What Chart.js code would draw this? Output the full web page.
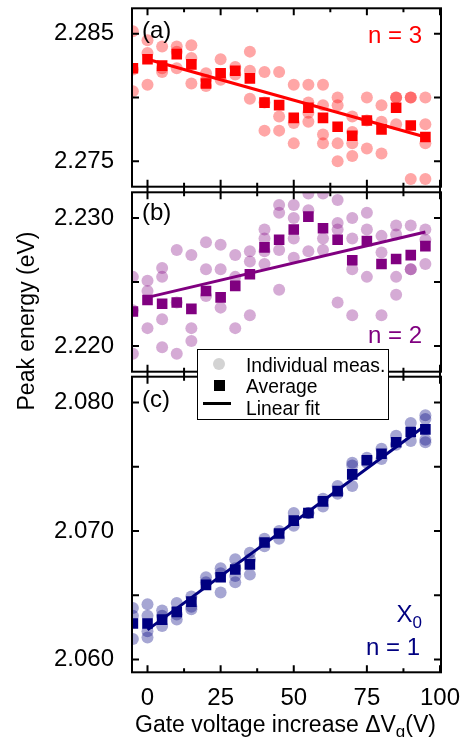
<!DOCTYPE html>
<html>
<head>
<meta charset="utf-8">
<script src="https://cdn.jsdelivr.net/npm/chart.js@4.4.0/dist/chart.umd.min.js"></script>
<style>
  body { margin: 0; background: #fff; }
  #page { position: relative; width: 464px; height: 737px; overflow: hidden; font-family: "Liberation Sans", Arial, sans-serif; }
  canvas { position: absolute; left: 0; }
  .txt { position: absolute; font-size: 24px; line-height: 24px; white-space: nowrap; }
  #legend { position: absolute; left: 197px; top: 349px; width: 190px; height: 69px; border: 1.5px solid #000; background: #fff; }
  #legend .t { position: absolute; left: 48px; font-size: 19.3px; line-height: 19px; white-space: nowrap; }
  #legend .sym { position: absolute; }
</style>
</head>
<body>
<div id="page">
  <canvas id="chartA" width="464" height="200" style="top:0px"></canvas>
  <canvas id="chartB" width="464" height="200" style="top:180px"></canvas>
  <canvas id="chartC" width="464" height="373" style="top:364px"></canvas>

  <div class="txt" style="left:142px; top:18px;">(a)</div>
  <div class="txt" style="right:42px; top:23px; color:#ff0000;">n = 3</div>
  <div class="txt" style="left:142px; top:200px;">(b)</div>
  <div class="txt" style="right:42px; top:323px; color:#800080;">n = 2</div>
  <div class="txt" style="left:142px; top:387px;">(c)</div>
  <div class="txt" style="right:42px; top:602px; color:#000080;">X<sub style="font-size:17px; vertical-align:-6px;">0</sub></div>
  <div class="txt" style="right:44px; top:635px; color:#000080;">n = 1</div>

  <div class="txt" style="font-size:23px; left:-124px; top:309px; width:300px; text-align:center; transform:rotate(-90deg);">Peak energy (eV)</div>
  <div class="txt" style="font-size:23px; left:135px; top:712px;">Gate voltage increase &Delta;V<sub style="font-size:17px; vertical-align:-5px;">g</sub>(V)</div>

  <div id="legend">
    <div class="sym" style="left:15px; top:8px; width:12px; height:12px; border-radius:50%; background:#d3d3d3;"></div>
    <div class="t" style="top:6px;">Individual meas.</div>
    <div class="sym" style="left:16px; top:30px; width:11px; height:11px; background:#000;"></div>
    <div class="t" style="top:27px;">Average</div>
    <div class="sym" style="left:5px; top:52px; width:28px; height:3px; background:#000;"></div>
    <div class="t" style="top:49px;">Linear fit</div>
  </div>
</div>

<script>
// gate voltage steps (V)
const gateV = [-5, 0, 5, 10, 15, 20, 25, 30, 35, 40, 45, 50, 55, 60, 65, 70, 75, 80, 85, 90, 95];
const xTickLabels = [0, 25, 50, 75, 100];
const fitX = [0, 95];

// (a) n = 3
const avgA = [2.2823, 2.2830, 2.2825, 2.2834, 2.2826, 2.2811, 2.2819, 2.2821, 2.2815, 2.2796, 2.2794,
              2.2784, 2.2792, 2.2784, 2.2777, 2.2770, 2.2782, 2.2775, 2.2792, 2.2778, 2.2769];
const measA = [
  [2.2852, 2.2822, 2.2805], [2.2845, 2.2835, 2.2810], [2.2840, 2.2823, 2.2820], [2.2840, 2.2836, 2.2823],
  [2.2841, 2.2831, 2.2811], [2.2819, 2.2814, 2.2809], [2.2830, 2.2814], [2.2824, 2.2818],
  [2.2836, 2.2821, 2.2799], [2.2820, 2.2796, 2.2774], [2.2820, 2.2785, 2.2774], [2.2810, 2.2780, 2.2764],
  [2.2810, 2.2796, 2.2788, 2.2781], [2.2810, 2.2794, 2.2771, 2.2764], [2.2800, 2.2794, 2.2764, 2.2750],
  [2.2785, 2.2773, 2.2764, 2.2754], [2.2800, 2.2782, 2.2760], [2.2794, 2.2781, 2.2756],
  [2.2800, 2.2800, 2.2779], [2.2800, 2.2800, 2.2736], [2.2800, 2.2779, 2.2764, 2.2736]
];
const fitA = [2.2830, 2.2769];
const yLabelsA = [2.275, 2.285];

// (b) n = 2
const avgB = [2.2227, 2.2236, 2.2233, 2.2234, 2.2229, 2.2243, 2.2238, 2.2247, 2.2256, 2.2277, 2.2283,
              2.2291, 2.2301, 2.2292, 2.2283, 2.2267, 2.2282, 2.2264, 2.2268, 2.2271, 2.2278];
const measB = [
  [2.2254, 2.2228, 2.2194], [2.2251, 2.2243, 2.2214], [2.2261, 2.2254, 2.2221, 2.2199], [2.2275, 2.2234, 2.2194],
  [2.2271, 2.2214, 2.2204], [2.2281, 2.2260, 2.2239], [2.2279, 2.2260, 2.2230], [2.2271, 2.2254, 2.2214],
  [2.2274, 2.2266, 2.2224], [2.2291, 2.2284, 2.2274, 2.2264], [2.2310, 2.2304, 2.2275, 2.2244],
  [2.2310, 2.2300, 2.2284, 2.2269], [2.2319, 2.2306, 2.2274], [2.2319, 2.2284, 2.2275],
  [2.2314, 2.2296, 2.2291, 2.2234], [2.2300, 2.2284, 2.2260, 2.2224], [2.2304, 2.2291, 2.2254],
  [2.2286, 2.2273, 2.2224], [2.2294, 2.2287, 2.2254, 2.2240], [2.2294, 2.2260, 2.2260], [2.2291, 2.2283, 2.2264]
];
const fitB = [2.2238, 2.2289];
const yLabelsB = [2.220, 2.230];

// (c) n = 1 (X0)
const avgC = [2.0628, 2.0628, 2.0631, 2.0637, 2.0645, 2.0658, 2.0664, 2.0670, 2.0674, 2.0691, 2.0698,
              2.0708, 2.0714, 2.0723, 2.0731, 2.0744, 2.0755, 2.0760, 2.0769, 2.0777, 2.0779];
const measC = [
  [2.0640, 2.0634, 2.0616], [2.0643, 2.0634, 2.0622, 2.0617], [2.0638, 2.0634, 2.0626], [2.0644, 2.0635, 2.0631],
  [2.0649, 2.0641, 2.0639], [2.0664, 2.0660], [2.0671, 2.0667, 2.0652], [2.0678, 2.0671, 2.0665, 2.0660],
  [2.0683, 2.0678, 2.0666], [2.0694, 2.0688], [2.0700, 2.0694], [2.0714, 2.0704], [2.0714, 2.0714],
  [2.0725, 2.0719], [2.0735, 2.0729], [2.0753, 2.0751, 2.0735], [2.0757, 2.0753], [2.0764, 2.0756],
  [2.0774, 2.0767], [2.0784, 2.0770], [2.0790, 2.0787, 2.0771, 2.0769]
];
const fitC = [2.0623, 2.0782];
const yLabelsC = [2.060, 2.070, 2.080];

const FONT = { family: '"Liberation Sans", Arial, sans-serif', size: 24 };

// box around the plot, with ticks pointing inward
const framePlugin = {
  id: 'frame',
  afterDatasetsDraw(chart, args, opts) {
    const { ctx, chartArea: a, scales } = chart;
    ctx.save();
    ctx.strokeStyle = '#000';
    ctx.lineWidth = 2;
    ctx.strokeRect(a.left, a.top, a.right - a.left, a.bottom - a.top);
    ctx.beginPath();
    scales.x.ticks.forEach(t => {
      const px = scales.x.getPixelForValue(t.value);
      const len = t.value % 25 === 0 ? 7 : 4;
      ctx.moveTo(px, a.bottom);
      ctx.lineTo(px, a.bottom - len);
      ctx.moveTo(px, a.top - opts.topOut);
      ctx.lineTo(px, a.top + len);
    });
    scales.y.ticks.forEach(t => {
      const py = scales.y.getPixelForValue(t.value);
      ctx.moveTo(a.left, py);
      ctx.lineTo(a.left + 7, py);
      ctx.moveTo(a.right, py);
      ctx.lineTo(a.right - 7, py);
    });
    ctx.stroke();
    ctx.restore();
  }
};

function makePanel(id, p) {
  const meas = [];
  p.meas.forEach((vals, i) => vals.forEach(v => meas.push({ x: gateV[i], y: v })));
  const avg = p.avg.map((v, i) => ({ x: gateV[i], y: v }));
  const fit = p.fit.map((v, i) => ({ x: fitX[i], y: v }));

  new Chart(document.getElementById(id), {
    type: 'scatter',
    data: {
      datasets: [
        { data: fit, showLine: true, borderColor: p.color, borderWidth: 3, pointRadius: 0, order: 0, clip: 0 },
        { data: avg, pointStyle: 'rect', pointRadius: 7.5, backgroundColor: p.color, borderWidth: 0, order: 1, clip: 0 },
        { data: meas, pointStyle: 'circle', pointRadius: 6, backgroundColor: p.light, borderWidth: 0, order: 2, clip: 0 }
      ]
    },
    options: {
      responsive: false,
      animation: false,
      events: [],
      layout: { padding: p.padding },
      plugins: { legend: { display: false }, tooltip: { enabled: false }, frame: { topOut: p.topOut } },
      scales: {
        x: {
          min: -5.3, max: 100.34,
          grid: { display: false },
          border: { display: false },
          ticks: {
            stepSize: 12.5, includeBounds: false, autoSkip: false, maxRotation: 0,
            display: p.showX, color: '#000', font: FONT, padding: 4,
            callback: v => xTickLabels.includes(v) ? String(v) : ''
          },
          afterFit: s => { s.height = p.showX ? 40 : 0; s.paddingLeft = s.paddingRight = s.paddingTop = s.paddingBottom = 0; }
        },
        y: {
          min: p.yMin, max: p.yMax,
          grid: { display: false },
          border: { display: false },
          ticks: {
            stepSize: 0.005, includeBounds: false, autoSkip: false,
            color: '#000', font: FONT, padding: 10,
            callback: v => p.yLabels.some(l => Math.abs(l - v) < 1e-6) ? v.toFixed(3) : ''
          },
          afterFit: s => { s.width = 132; s.paddingLeft = s.paddingRight = s.paddingTop = s.paddingBottom = 0; }
        }
      }
    },
    plugins: [framePlugin]
  });
}

makePanel('chartA', {
  meas: measA, avg: avgA, fit: fitA, yLabels: yLabelsA, yMin: 2.273, yMax: 2.287,
  color: '#ff0000', light: 'rgba(255,0,0,0.35)',
  padding: { top: 8.3, bottom: 13.3, left: 0, right: 23 }, showX: false, topOut: 0
});
makePanel('chartB', {
  meas: measB, avg: avgB, fit: fitB, yLabels: yLabelsB, yMin: 2.218, yMax: 2.232,
  color: '#800080', light: 'rgba(128,0,128,0.33)',
  padding: { top: 12.3, bottom: 8.3, left: 0, right: 23 }, showX: false, topOut: 6
});
makePanel('chartC', {
  meas: measC, avg: avgC, fit: fitC, yLabels: yLabelsC, yMin: 2.059, yMax: 2.082,
  color: '#000080', light: 'rgba(0,0,128,0.35)',
  padding: { top: 12.7, bottom: 24.7, left: 0, right: 23 }, showX: true, topOut: 6
});
</script>
</body>
</html>
